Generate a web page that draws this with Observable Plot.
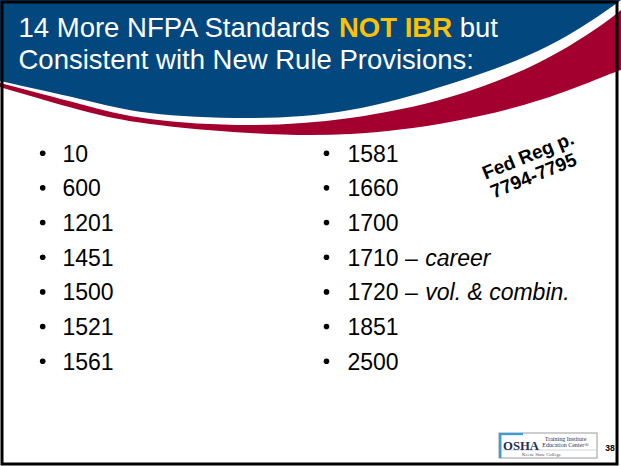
<!DOCTYPE html>
<html>
<head>
<meta charset="utf-8">
<script src="https://cdn.jsdelivr.net/npm/d3@7"></script>
<script src="https://cdn.jsdelivr.net/npm/@observablehq/plot@0.6"></script>
<style>
  html, body { margin: 0; padding: 0; background: #fff; }
  #chart svg { display: block; }
</style>
</head>
<body>
<div id="chart"></div>
<script>
// ---------- content ----------
const titleLine1 = ["14 More NFPA Standards", "NOT IBR", "but"];
const titleLine2 = "Consistent with New Rule Provisions:";
const leftItems = ["10", "600", "1201", "1451", "1500", "1521", "1561"];
const rightItems = ["1581", "1660", "1700", "1710", "1720", "1851", "2500"];
const rightNotes = ["", "", "", "career", "vol. & combin.", "", ""];
const fedReg = ["Fed Reg p.", "7794-7795"];
const logoLines = ["OSHA", "Training Institute", "Education Center\u00ae", "Keene State College"];
const pageNumber = "38";

// header swoosh edges (slide units, measured down from the top)
const swooshX      = [0, 80, 150, 250, 350, 450, 540, 600, 621];
const blueEdge     = [81, 99, 113, 118, 110, 84, 50, 15, 0];
const stripeEdge   = [83, 104, 119, 125, 118, 97, 62, 26, 10];
const redEdge      = [87, 110, 124, 133, 134, 122, 100, 78, 70];

// ---------- layout ----------
const W = 621, H = 466;
const SANS = "'Liberation Sans', Arial, Helvetica, sans-serif";
const SERIF = "'Liberation Serif', 'Times New Roman', serif";
const BLUE = "#03477f", RED = "#a3002f", GOLD = "#ffc000";
const ctx = document.createElement("canvas").getContext("2d");
const measure = (t, font) => { ctx.font = font; return ctx.measureText(t).width; };

const titleSize = 27.5;
const tNorm = `${titleSize}px ${SANS}`, tBold = `bold ${titleSize}px ${SANS}`;
const tx0 = 18, ty1 = 36, ty2 = 68;
const x2 = tx0 + measure(titleLine1[0] + " ", tNorm);
const x3 = x2 + measure(titleLine1[1], tBold) + measure(" ", tNorm);
const titleNormal = [
  {text: titleLine1[0], x: tx0, y: ty1},
  {text: titleLine1[2], x: x3, y: ty1},
  {text: titleLine2, x: tx0, y: ty2}
];
const titleBold = [{text: titleLine1[1], x: x2, y: ty1}];

const itemSize = 23;
const iFont = `${itemSize}px ${SANS}`;
const rowTop = 161, rowStep = 34.67;
const leftBulletX = 42.2, leftTextX = 62, rightBulletX = 326, rightTextX = 347;
const rows = leftItems.map((t, i) => ({t, y: rowTop + i * rowStep}));
const rightRows = rightItems.map((t, i) => {
  const main = rightNotes[i] ? t + " \u2013" : t;
  return {t: main, note: rightNotes[i], y: rowTop + i * rowStep,
          noteX: rightTextX + measure(main + " ", iFont) + 1};
});
const notes = rightRows.filter(d => d.note);

const swoosh = swooshX.map((x, i) => ({x, top: 0, b: blueEdge[i], s: stripeEdge[i], r: redEdge[i]}));

const fedData = [
  {t: fedReg[0], x: 530, y: 161},
  {t: fedReg[1], x: 535.5, y: 181}
];

const logoBox = {x1: 499, x2: 597, y1: 433, y2: 458};
const LOGO_BLUE = "#3a9fd8", LOGO_NAVY = "#1d2f5e";

const chart = Plot.plot({
  width: W, height: H, margin: 0,
  x: {domain: [0, W], range: [0, W], axis: null},
  y: {domain: [0, H], range: [0, H], axis: null},
  style: {background: "#fff", fontFamily: SANS},
  marks: [
    // header swoosh
    Plot.areaY(swoosh, {x: "x", y1: "top", y2: "r", fill: RED, curve: "natural"}),
    Plot.areaY(swoosh, {x: "x", y1: "top", y2: "s", fill: "#fff", curve: "natural"}),
    Plot.areaY(swoosh, {x: "x", y1: "top", y2: "b", fill: BLUE, curve: "natural"}),
    // title
    Plot.text(titleNormal, {x: "x", y: "y", text: "text", fill: "#fff",
      fontSize: titleSize, textAnchor: "start", lineAnchor: "bottom"}),
    Plot.text(titleBold, {x: "x", y: "y", text: "text", fill: GOLD, fontWeight: "bold",
      fontSize: titleSize, textAnchor: "start", lineAnchor: "bottom"}),
    // bullets
    Plot.dot(rows, {x: () => leftBulletX, y: d => d.y - 8.3, r: 2.8, fill: "#000", stroke: null}),
    Plot.dot(rightRows, {x: () => rightBulletX, y: d => d.y - 8.3, r: 2.8, fill: "#000", stroke: null}),
    Plot.text(rows, {x: () => leftTextX, y: "y", text: "t", fontSize: itemSize,
      textAnchor: "start", lineAnchor: "bottom", fill: "#000"}),
    Plot.text(rightRows, {x: () => rightTextX, y: "y", text: "t", fontSize: itemSize,
      textAnchor: "start", lineAnchor: "bottom", fill: "#000"}),
    Plot.text(notes, {x: "noteX", y: "y", text: "note", fontSize: itemSize, fontStyle: "italic",
      textAnchor: "start", lineAnchor: "bottom", fill: "#000"}),
    // Fed Reg callout
    Plot.text(fedData, {x: "x", y: "y", text: "t", fontSize: 19, fontWeight: "bold",
      rotate: -22, textAnchor: "middle", lineAnchor: "bottom", fill: "#000"}),
    // logo
    Plot.rect([logoBox], {x1: "x1", x2: "x2", y1: "y1", y2: "y2", fill: "#fff", stroke: "#a9acb0", strokeWidth: 1.2}),
    Plot.rect([logoBox], {x1: "x1", x2: d => d.x1 + 2.5, y1: "y1", y2: "y2", fill: LOGO_BLUE}),
    Plot.rect([logoBox], {x1: "x1", x2: d => d.x1 + 24, y1: "y1", y2: d => d.y1 + 2.2, fill: LOGO_BLUE}),
    Plot.ruleY([logoBox], {y: d => d.y2 - 8.5, x1: d => d.x1 + 3, x2: d => d.x2 - 1, stroke: "#c9ccd0", strokeWidth: 0.8}),
    Plot.text([logoLines[0]], {x: () => logoBox.x1 + 3.5, y: () => logoBox.y2 - 8.8, text: d => d,
      fontFamily: SERIF, fontWeight: "bold", fontSize: 13.5, fill: LOGO_NAVY, textAnchor: "start",
      lineAnchor: "bottom"}),
    Plot.text([logoLines[1], logoLines[2]], {x: () => 565, y: (d, i) => logoBox.y1 + 7.2 + i * 5.8,
      text: d => d, fontFamily: SERIF, fontSize: 6, fill: LOGO_NAVY, textAnchor: "middle",
      lineAnchor: "bottom"}),
    Plot.text([logoLines[3]], {x: () => 541, y: () => logoBox.y2 - 2.6, text: d => d,
      fontFamily: SERIF, fontSize: 4.8, fill: "#555", textAnchor: "middle", lineAnchor: "bottom"}),
    Plot.text([pageNumber], {x: () => 609.5, y: () => 450.5, text: d => d, fontSize: 8.5,
      fontWeight: "bold", fill: "#000", textAnchor: "middle", lineAnchor: "bottom"}),
    // slide border
    Plot.frame({stroke: "#000", strokeWidth: 3, insetLeft: 1.5, insetTop: 1.5, insetRight: 4.5, insetBottom: 2.5})
  ]
});
// condense the OSHA wordmark to its logo width
for (const t of chart.querySelectorAll("text")) {
  if (t.textContent === logoLines[0]) {
    t.setAttribute("textLength", "36");
    t.setAttribute("lengthAdjust", "spacingAndGlyphs");
  }
}
document.getElementById("chart").append(chart);
</script>
</body>
</html>
